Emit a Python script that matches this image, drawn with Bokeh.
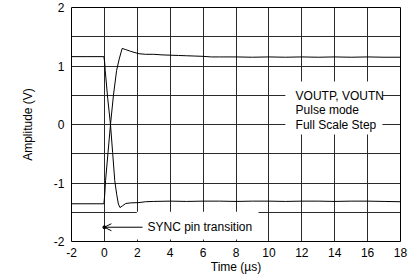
from bokeh.plotting import figure
from bokeh.models import FixedTicker, BoxAnnotation, Label, Arrow, OpenHead, Range1d
from bokeh.embed import file_html
from bokeh.resources import INLINE

# ---- data ----
x_ticks = [-2, 0, 2, 4, 6, 8, 10, 12, 14, 16, 18]
x_tick_labels = ["-2", "0", "2", "4", "6", "8", "10", "12", "14", "16", "18"]
y_ticks = [-2, -1, 0, 1, 2]
y_tick_labels = ["-2", "-1", "0", "1", "2"]
y_grid = [-1.5, -1.0, -0.5, 0.0, 0.5, 1.0, 1.5]

# rising output
t_p = [-2.0, -1.0, -0.03, 0.02, 0.07, 0.22, 0.37, 0.55, 0.74, 0.9, 1.08, 1.3, 1.6,
       2.1, 2.5, 3.0, 3.5, 4.0, 4.5, 5.0, 5.5, 6.0, 6.5, 7.0, 8.0, 9.0, 10.0,
       11.0, 12.0, 13.0, 14.0, 15.0, 16.0, 17.0, 18.0]
v_p = [-1.355, -1.355, -1.355, -1.2, -0.96, -0.48, 0.0, 0.5, 0.92, 1.12, 1.30, 1.28, 1.25,
       1.21, 1.20, 1.20, 1.19, 1.185, 1.18, 1.175, 1.17, 1.165, 1.155, 1.155, 1.155, 1.15, 1.155,
       1.15, 1.155, 1.15, 1.155, 1.15, 1.155, 1.15, 1.15]

# falling output
t_n = [-2.0, -1.0, -0.03, 0.02, 0.05, 0.2, 0.37, 0.5, 0.63, 0.75, 0.85, 0.95, 1.1, 1.3,
       1.6, 2.1, 2.5, 3.0, 4.0, 5.0, 6.0, 7.0, 8.0, 9.0, 10.0, 11.0, 12.0, 13.0,
       14.0, 15.0, 16.0, 17.0, 18.0]
v_n = [1.16, 1.16, 1.16, 1.05, 0.92, 0.45, 0.0, -0.48, -0.96, -1.2, -1.36, -1.42, -1.39, -1.35,
       -1.34, -1.335, -1.32, -1.315, -1.31, -1.315, -1.31, -1.31, -1.315, -1.31, -1.31, -1.315, -1.31, -1.31,
       -1.315, -1.31, -1.31, -1.315, -1.32]

FONT = "Liberation Sans"

p = figure(width=419, height=279, x_range=Range1d(-2, 18), y_range=Range1d(-2, 2),
           output_backend="svg", toolbar_location=None,
           min_border_left=71, min_border_right=19, min_border_top=7, min_border_bottom=38)
p.background_fill_color = "white"
p.border_fill_color = "white"
p.outline_line_color = "black"
p.outline_line_width = 1

p.xaxis.ticker = FixedTicker(ticks=x_ticks)
p.yaxis.ticker = FixedTicker(ticks=y_ticks)
p.xaxis.major_label_overrides = dict(zip(x_ticks, x_tick_labels))
p.yaxis.major_label_overrides = dict(zip(y_ticks, y_tick_labels))
p.xgrid.ticker = FixedTicker(ticks=x_ticks)
p.ygrid.ticker = FixedTicker(ticks=y_grid)
for g in (p.xgrid, p.ygrid):
    g.grid_line_color = "#2a2a2a"
    g.grid_line_width = 1

for ax in (p.xaxis, p.yaxis):
    ax.axis_line_color = None
    ax.major_tick_line_color = None
    ax.minor_tick_line_color = None
    ax.major_tick_out = 0
    ax.major_tick_in = 0
    ax.major_label_text_font = FONT
    ax.major_label_text_font_size = "12px"
    ax.major_label_text_color = "black"
    ax.axis_label_text_font = FONT
    ax.axis_label_text_font_size = "12px"
    ax.axis_label_text_font_style = "normal"
    ax.axis_label_text_color = "black"

p.xaxis.axis_label = "Time (µs)"
p.yaxis.axis_label = "Amplitude (V)"
p.xaxis.major_label_standoff = 6
p.xaxis.axis_label_standoff = 0
p.yaxis.major_label_standoff = 7
p.yaxis.axis_label_standoff = 16

p.line(t_p, v_p, line_color="black", line_width=1)
p.line(t_n, v_n, line_color="black", line_width=1)

# annotation boxes that mask the grid
p.add_layout(BoxAnnotation(left=11.0, right=16.9, top=0.735, bottom=-0.17,
                           fill_color="white", fill_alpha=1, line_alpha=0))
p.add_layout(BoxAnnotation(left=1.97, right=9.37, top=-1.49, bottom=-1.965,
                           fill_color="white", fill_alpha=1, line_alpha=0))

for txt, yy in (("VOUTP, VOUTN", 0.484), ("Pulse mode", 0.256), ("Full Scale Step", -0.005)):
    p.add_layout(Label(x=11.62, y=yy, text=txt, text_font=FONT, text_font_size="12px",
                       text_baseline="middle", text_align="left", text_color="black"))

p.add_layout(Arrow(end=OpenHead(size=7, line_color="black", line_width=1),
                   x_start=2.32, y_start=-1.756, x_end=0.0, y_end=-1.756,
                   line_color="black", line_width=1))
p.scatter([0.0], [-1.756], size=3, color="black")
p.add_layout(Label(x=2.62, y=-1.756, text="SYNC pin transition", text_font=FONT,
                   text_font_size="12px", text_baseline="middle", text_align="left",
                   text_color="black"))

p.add_layout(Label(x=333, y=-31, x_units="screen", y_units="screen", text="G000",
                   text_font=FONT, text_font_size="6px",
                   text_baseline="middle", text_align="right", text_color="#444444"))

open("out.html", "w").write(file_html(p, INLINE))
